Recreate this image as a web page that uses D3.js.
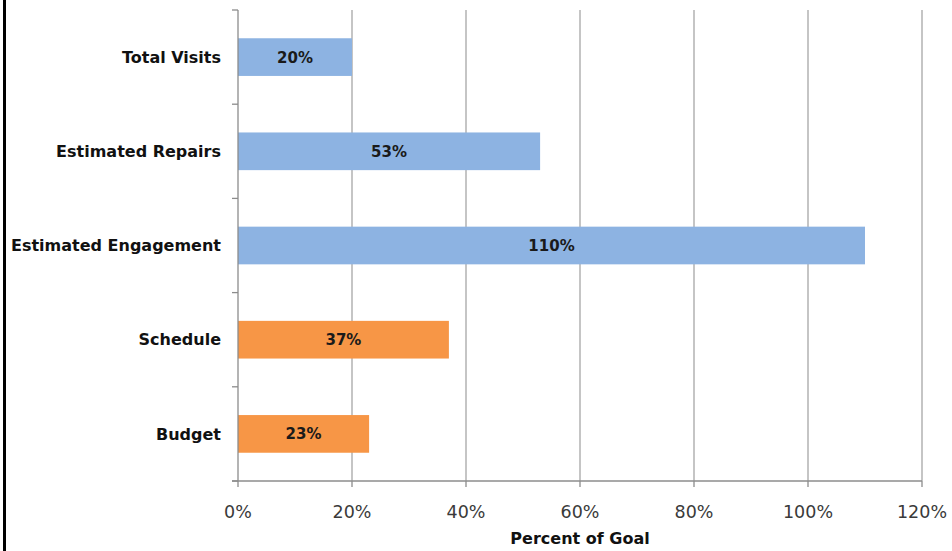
<!DOCTYPE html>
<html>
<head>
<meta charset="utf-8">
<script src="https://cdn.jsdelivr.net/npm/d3@7"></script>
<style>
  html, body { margin: 0; padding: 0; background: #fff; }
  svg { display: block; }
</style>
</head>
<body>
<script>
const categories = ["Total Visits", "Estimated Repairs", "Estimated Engagement", "Schedule", "Budget"];
const values = [20, 53, 110, 37, 23];
const barColors = ["#8db3e2", "#8db3e2", "#8db3e2", "#f79646", "#f79646"];
const xTicks = [0, 20, 40, 60, 80, 100, 120];
const xTitle = "Percent of Goal";

const W = 952, H = 551;
const m = { left: 238, right: 30, top: 10, bottom: 70 };
const font = "'DejaVu Sans', sans-serif";

const svg = d3.select("body").append("svg").attr("width", W).attr("height", H);

// left border
svg.append("rect").attr("x", 3).attr("y", 0).attr("width", 3).attr("height", H).attr("fill", "#000");

const x = d3.scaleLinear().domain([0, 120]).range([m.left, W - m.right]);
const y = d3.scaleBand().domain(categories).range([m.top, H - m.bottom]).paddingInner(0.6).paddingOuter(0.3);
const yEdges = d3.scaleLinear().domain([0, categories.length]).range([m.top, H - m.bottom]);

// gridlines
svg.append("g").selectAll("line").data(xTicks.filter(d => d > 0)).join("line")
  .attr("x1", d => x(d)).attr("x2", d => x(d))
  .attr("y1", m.top).attr("y2", H - m.bottom)
  .attr("stroke", "#a6a6a6").attr("stroke-width", 1.3);

// bars
svg.append("g").selectAll("rect").data(categories).join("rect")
  .attr("x", x(0)).attr("y", d => y(d))
  .attr("width", (d, i) => x(values[i]) - x(0))
  .attr("height", y.bandwidth())
  .attr("fill", (d, i) => barColors[i]);

// bar labels
svg.append("g").selectAll("text").data(categories).join("text")
  .attr("x", (d, i) => (x(0) + x(values[i])) / 2)
  .attr("y", d => y(d) + y.bandwidth() / 2)
  .attr("dy", "0.36em")
  .attr("text-anchor", "middle")
  .attr("font-family", font).attr("font-weight", "bold").attr("font-size", 15)
  .attr("fill", "#1a1a1a")
  .text((d, i) => values[i] + "%");

// y axis line + ticks
const ya = svg.append("g").attr("stroke", "#8c8c8c").attr("stroke-width", 1.3);
ya.append("line").attr("x1", x(0)).attr("x2", x(0)).attr("y1", m.top).attr("y2", H - m.bottom);
ya.selectAll("line.t").data(d3.range(categories.length + 1)).join("line").attr("class", "t")
  .attr("x1", x(0) - 6).attr("x2", x(0)).attr("y1", d => yEdges(d)).attr("y2", d => yEdges(d));

// x axis line + ticks
const xa = svg.append("g").attr("stroke", "#8c8c8c").attr("stroke-width", 1.3);
xa.append("line").attr("x1", x(0) - 6).attr("x2", x(120)).attr("y1", H - m.bottom).attr("y2", H - m.bottom);
xa.selectAll("line.t").data(xTicks).join("line").attr("class", "t")
  .attr("x1", d => x(d)).attr("x2", d => x(d)).attr("y1", H - m.bottom).attr("y2", H - m.bottom + 6);

// category labels
svg.append("g").selectAll("text").data(categories).join("text")
  .attr("x", x(0) - 17)
  .attr("y", d => y(d) + y.bandwidth() / 2)
  .attr("dy", "0.36em")
  .attr("text-anchor", "end")
  .attr("font-family", font).attr("font-weight", "bold").attr("font-size", 16)
  .attr("fill", "#111")
  .text(d => d);

// x tick labels
svg.append("g").selectAll("text").data(xTicks).join("text")
  .attr("x", d => x(d)).attr("y", 512)
  .attr("dy", "0.36em")
  .attr("text-anchor", "middle")
  .attr("font-family", font).attr("font-size", 17.5)
  .attr("fill", "#3a3a3a")
  .text(d => d + "%");

// x title
svg.append("text").attr("x", (x(0) + x(120)) / 2).attr("y", 538).attr("dy", "0.36em")
  .attr("text-anchor", "middle")
  .attr("font-family", font).attr("font-weight", "bold").attr("font-size", 16)
  .attr("fill", "#111").text(xTitle);
</script>
</body>
</html>
